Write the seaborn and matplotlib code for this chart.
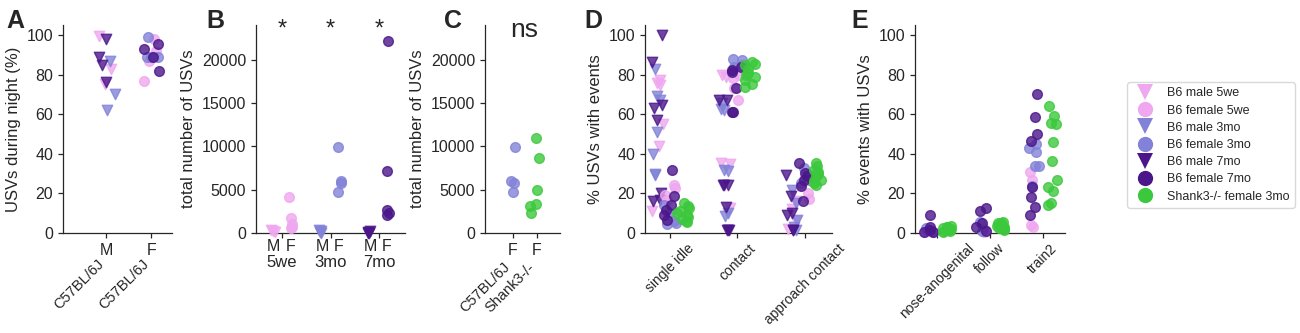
import numpy as np
import pandas as pd
import matplotlib
matplotlib.use("Agg")
import matplotlib.pyplot as plt
import matplotlib.transforms as mtransforms
from matplotlib.lines import Line2D
import seaborn as sns

sns.set_style("ticks")
plt.rcParams["font.family"] = ["Liberation Sans", "DejaVu Sans"]
plt.rcParams["axes.linewidth"] = 0.9
plt.rcParams["xtick.major.width"] = 0.9
plt.rcParams["ytick.major.width"] = 0.9
plt.rcParams["xtick.major.size"] = 3.5
plt.rcParams["ytick.major.size"] = 3.5

np.random.seed(7)

PINK = "#EFA7EF"     # 5we
MEDIUM = "#8282D8"   # 3mo
DARK = "#4B168A"     # 7mo
GREEN = "#3CC83C"    # Shank3-/-

# ---- A: USVs during night (%) ----
A_MALE_5WE = [99.5, 83, 75]
A_MALE_3MO = [87, 70, 62]
A_MALE_7MO = [98, 89, 85, 76]
A_FEMALE_5WE = [98, 92, 87, 76.5]
A_FEMALE_3MO = [98.7, 89, 89, 89]
A_FEMALE_7MO = [95.5, 93, 89, 82]

# ---- B: total number of USVs per age ----
AGES = ["5we", "3mo", "7mo"]
B_MALE = [[350, 200, 100], [350, 200, 100, 50], [200, 100, 50, 0]]
B_FEMALE = [[4100, 1700, 1000, 700, 600], [9900, 6000, 5800, 4700],
            [22100, 7200, 2600, 2300, 2100]]
B_STARS = ["*", "*", "*"]

# ---- C: B6 vs Shank3 females ----
C_B6 = [9900, 6000, 5800, 4700]
C_SHANK3 = [11000, 8700, 5000, 3400, 3100, 2300]

# ---- D: % USVs with events ----
EVENTS_D = ["single idle", "contact", "approach contact"]
D_MALE_5WE = [[77, 75.6, 74.8, 55, 43.7, 11], [79.8, 79, 35.3, 35, 12.6], [16, 12, 5.9, 2]]
D_MALE_3MO = [[82.7, 69, 67, 51, 40, 30, 29.4], [65.5, 62.5, 62.2, 31.6, 31.1, 10, 8.4],
              [21.8, 15, 6.7, 3, 1.3]]
D_MALE_7MO = [[100, 86.5, 64.7, 63, 57, 20, 16.8, 16],
              [67.2, 66.9, 24.4, 24.4, 24, 12.9, 1.7, 1.3, 1.3],
              [29.4, 18.5, 10, 9.2, 1.7, 1.3]]
D_FEMALE_5WE = [[24.4, 22.7, 19.3, 16.8], [80, 78, 73, 67], [24.4, 20, 17]]
D_FEMALE_3MO = [[14, 10, 5.9, 5, 4.5], [88, 87.4, 85, 84], [32.8, 30, 27, 25]]
D_FEMALE_7MO = [[32, 18.5, 14.3, 11.8, 9.2, 6.7], [84, 82.4, 81.5, 73, 61.3, 61.3],
                [35.3, 30.2, 28.6, 27, 23.5, 16]]
D_SHANK3 = [[15, 13.5, 12.5, 11, 10, 9, 8, 7, 6, 5.5],
            [86.5, 85.5, 85, 83, 81, 80, 79, 77, 75, 73.5],
            [35.3, 33.6, 32, 31, 30, 28.6, 27, 26, 25.2, 24]]

# ---- E: % events with USVs ----
EVENTS_E = ["nose-anogenital", "follow", "train2"]
E_FEMALE_5WE = [[1, 0.3], [1.5, 0.5], [31, 26.8, 4, 3.2]]
E_FEMALE_3MO = [[2.4, 1.5, 0.5], [5.7, 2.4, 1], [44.8, 42.8, 40.7, 34, 33.8, 23.7]]
E_FEMALE_7MO = [[9.1, 3.2, 1.5, 0.7, 0.5], [12.8, 11.1, 5.2, 3.2, 1.2],
                [70.2, 58.4, 49.8, 46.5, 23, 18.3, 13.3, 9.1]]
E_SHANK3 = [[3.5, 3, 2.8, 2.5, 2, 1.8, 1.5, 1, 0.8, 0.5],
            [5.5, 5, 4.8, 4.5, 4, 3.5, 3, 2.5, 2, 1.5],
            [64.1, 59.3, 55.7, 54.9, 45.8, 36.5, 26.8, 23.4, 21.2, 15, 14.1]]

LEGEND = [("B6 male 5we", "v", PINK), ("B6 female 5we", "o", PINK),
          ("B6 male 3mo", "v", MEDIUM), ("B6 female 3mo", "o", MEDIUM),
          ("B6 male 7mo", "v", DARK), ("B6 female 7mo", "o", DARK),
          ("Shank3-/- female 3mo", "o", GREEN)]

FS = 11.5
ROT_FS = 10.5


def long_form(groups, offset):
    xs, ys = [], []
    for i, vals in enumerate(groups):
        xs += [i + offset] * len(vals)
        ys += list(vals)
    return pd.DataFrame({"x": xs, "y": ys})


def strip(ax, df, color, marker, jitter):
    size = 7.5 if marker == "v" else 7
    sns.stripplot(data=df, x="x", y="y", native_scale=True, orient="x", jitter=jitter,
                  color=color, marker=marker, size=size, alpha=0.8, linewidth=1.0,
                  edgecolor=color, clip_on=False, zorder=3, ax=ax)


def make_ax(left, right):
    ax = fig.add_axes([left / 1300, 1 - 233 / 333, (right - left) / 1300, 208 / 333])
    sns.despine(ax=ax)
    ax.tick_params(labelsize=FS)
    return ax


fig = plt.figure(figsize=(13, 3.33), dpi=100)

# ================= A =================
ax = make_ax(63, 172)
for vals, col in [(A_MALE_5WE, PINK), (A_MALE_3MO, MEDIUM), (A_MALE_7MO, DARK)]:
    strip(ax, long_form([vals], 0), col, "v", 0.2)
for vals, col in [(A_FEMALE_5WE, PINK), (A_FEMALE_3MO, MEDIUM), (A_FEMALE_7MO, DARK)]:
    strip(ax, long_form([vals], 1), col, "o", 0.18)
ax.set_xlim(-0.96, 1.46)
ax.set_ylim(0, 105)
ax.set_yticks(range(0, 101, 20))
ax.set_xticks([0, 1])
ax.set_xticklabels(["M", "F"])
ax.set_xlabel("")
ax.set_ylabel("USVs during night (%)", fontsize=FS + 0.5)
trans = mtransforms.blended_transform_factory(ax.transData, ax.transAxes)
for xpos in [0, 1]:
    ax.text(xpos, -0.115, "C57BL/6J", transform=trans, rotation=45, ha="right",
            va="top", fontsize=ROT_FS)

# ================= B =================
ax = make_ax(256, 405)
male_cols = [PINK, MEDIUM, DARK]
for i, col in enumerate(male_cols):
    strip(ax, long_form([B_MALE[i]], i - 0.2), col, "v", 0.06)
    strip(ax, long_form([B_FEMALE[i]], i + 0.18), col, "o", 0.06)
ax.set_xlim(-0.54, 2.54)
ax.set_ylim(0, 24000)
ax.set_yticks(range(0, 20001, 5000))
ax.set_xticks(range(3))
ax.set_xticklabels(AGES)
ax.tick_params(axis="x", which="major", pad=12.5, labelsize=FS + 0.5)
mf_pos = [i + d for i in range(3) for d in (-0.17, 0.17)]
ax.set_xticks(mf_pos, minor=True)
ax.set_xticklabels(["M", "F"] * 3, minor=True, fontsize=FS)
ax.tick_params(axis="x", which="minor", length=0, pad=4)
ax.set_xlabel("")
ax.set_ylabel("total number of USVs", fontsize=FS + 0.5)
trans = mtransforms.blended_transform_factory(ax.transData, ax.transAxes)
for i, s in enumerate(B_STARS):
    ax.text(i, 0.95, s, transform=trans, ha="center", va="baseline", fontsize=17)

# ================= C =================
ax = make_ax(485, 560)
strip(ax, long_form([C_B6], 0), MEDIUM, "o", 0.12)
strip(ax, long_form([C_SHANK3], 1), GREEN, "o", 0.3)
ax.set_xlim(-1.17, 1.96)
ax.set_ylim(0, 24000)
ax.set_yticks(range(0, 20001, 5000))
ax.set_xticks([0, 1])
ax.set_xticklabels(["F", "F"])
ax.set_xlabel("")
ax.set_ylabel("total number of USVs", fontsize=FS + 0.5)
trans = mtransforms.blended_transform_factory(ax.transData, ax.transAxes)
for xpos, lab in [(0, "C57BL/6J"), (1, "Shank3-/-")]:
    ax.text(xpos, -0.13, lab, transform=trans, rotation=45, ha="right",
            va="top", fontsize=ROT_FS)
ax.text(0.45, 0.94, "ns", transform=trans, ha="center", va="baseline", fontsize=19)

# ================= D =================
ax = make_ax(645, 832)
for groups, col in [(D_MALE_5WE, PINK), (D_MALE_3MO, MEDIUM), (D_MALE_7MO, DARK)]:
    strip(ax, long_form(groups, -0.19), col, "v", 0.09)
for groups, col in [(D_FEMALE_5WE, PINK), (D_FEMALE_3MO, MEDIUM), (D_FEMALE_7MO, DARK)]:
    strip(ax, long_form(groups, 0.0), col, "o", 0.09)
strip(ax, long_form(D_SHANK3, 0.19), GREEN, "o", 0.09)
ax.set_xlim(-0.37, 2.4)
ax.set_ylim(0, 105)
ax.set_yticks(range(0, 101, 20))
ax.set_xticks(range(3))
ax.set_xticklabels(EVENTS_D, rotation=45, ha="center", fontsize=10)
ax.tick_params(axis="x", pad=2.5)
ax.set_xlabel("")
ax.set_ylabel("% USVs with events", fontsize=FS + 0.5)

# ================= E =================
ax = make_ax(915, 1065)
for groups, col in [(E_FEMALE_5WE, PINK), (E_FEMALE_3MO, MEDIUM), (E_FEMALE_7MO, DARK)]:
    strip(ax, long_form(groups, -0.17), col, "o", 0.1)
strip(ax, long_form(E_SHANK3, 0.19), GREEN, "o", 0.1)
ax.set_xlim(-0.42, 2.42)
ax.set_ylim(0, 105)
ax.set_yticks(range(0, 101, 20))
ax.set_xticks(range(3))
ax.set_xticklabels(EVENTS_E, rotation=45, ha="center", fontsize=10)
ax.tick_params(axis="x", pad=2.5)
ax.set_xlabel("")
ax.set_ylabel("% events with USVs", fontsize=FS + 0.5)

# panel letters
for x, letter in [(6, "A"), (206, "B"), (444, "C"), (584, "D"), (851, "E")]:
    fig.text(x / 1300, 1 - 28 / 333, letter, fontsize=18, fontweight="bold", va="baseline")

# legend
handles = [Line2D([], [], marker=m, linestyle="", color=c, markersize=11,
                  markeredgewidth=0) for _, m, c in LEGEND]
leg = fig.legend(handles, [l for l, _, _ in LEGEND], loc="upper left",
                 bbox_to_anchor=(1121 / 1300, 1 - 76 / 333), fontsize=9,
                 frameon=True, labelspacing=0.42, handletextpad=0.8,
                 borderpad=0.4, handlelength=2.0)
leg.get_frame().set_edgecolor("#d0d0d0")

fig.savefig("out.png", dpi=100)
